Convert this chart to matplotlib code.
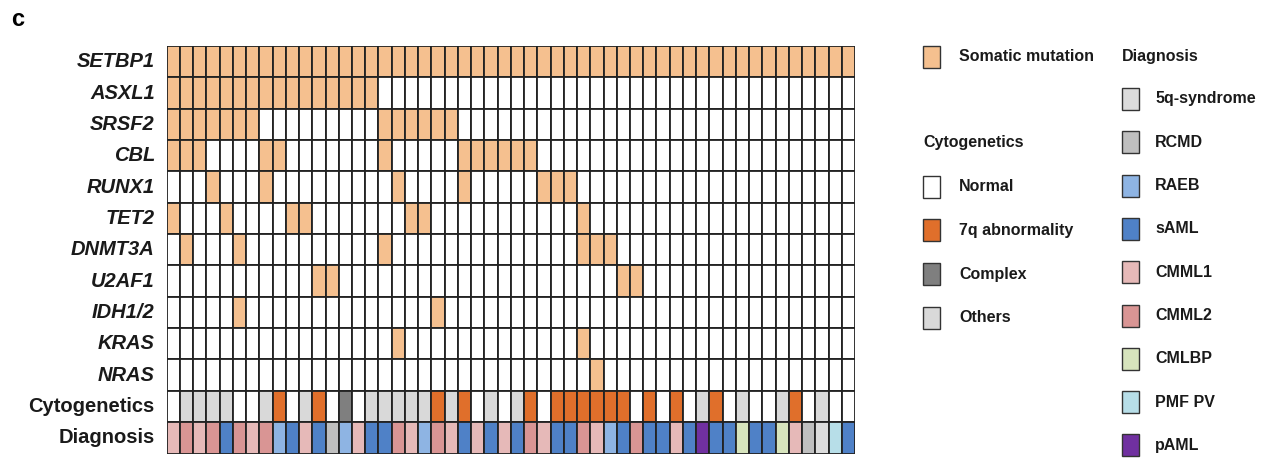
import numpy as np
import matplotlib
matplotlib.use("Agg")
import matplotlib.pyplot as plt
import matplotlib.patches as mpatches

plt.rcParams["font.family"] = ["Liberation Sans", "DejaVu Sans"]

# ---------------------------------------------------------------------------
# Données
# ---------------------------------------------------------------------------
n_patients = 52

genes = ["SETBP1", "ASXL1", "SRSF2", "CBL", "RUNX1", "TET2", "DNMT3A",
         "U2AF1", "IDH1/2", "KRAS", "NRAS"]

# colonnes (patients) mutées pour chaque gène
setbp1 = list(range(52))
asxl1 = list(range(16))
srsf2 = [0, 1, 2, 3, 4, 5, 6, 16, 17, 18, 19, 20, 21]
cbl = [0, 1, 2, 7, 8, 16, 22, 23, 24, 25, 26, 27]
runx1 = [3, 7, 17, 22, 28, 29, 30]
tet2 = [0, 4, 9, 10, 18, 19, 31]
dnmt3a = [1, 5, 16, 31, 32, 33]
u2af1 = [11, 12, 34, 35]
idh12 = [5, 20]
kras = [17, 31]
nras = [32]
mutations = [setbp1, asxl1, srsf2, cbl, runx1, tet2, dnmt3a,
             u2af1, idh12, kras, nras]

cyto_labels = ["Normal", "7q abnormality", "Complex", "Others"]
cyto_colors = ["#FFFFFF", "#E06F2B", "#7F7F7F", "#D9D9D9"]
# N=Normal, Q=7q, C=Complex, O=Others
cytogenetics = ("N O O O O N N O Q N O Q N C N O O O O O Q O Q N O N "
                "O Q N Q Q Q Q Q Q N Q N Q N O Q N O N N O Q N O N N").split()
cyto_code = {"N": 0, "Q": 1, "C": 2, "O": 3}

diag_labels = ["5q-syndrome", "RCMD", "RAEB", "sAML", "CMML1", "CMML2",
               "CMLBP", "PMF PV", "pAML"]
diag_colors = ["#DCDCDC", "#BFBFBF", "#8EB4E3", "#4F81C7", "#E6B9B8",
               "#D99594", "#D7E4BD", "#B7DEE8", "#7030A0"]
diagnosis = ["CMML1", "CMML2", "CMML1", "CMML2", "sAML", "CMML2", "CMML1",
             "CMML2", "RAEB", "sAML", "CMML1", "sAML", "RCMD", "RAEB",
             "CMML1", "sAML", "sAML", "CMML2", "CMML1", "RAEB", "CMML2",
             "CMML1", "sAML", "CMML1", "sAML", "CMML1", "sAML", "CMML2",
             "CMML1", "sAML", "sAML", "CMML2", "CMML1", "RAEB", "sAML",
             "CMML2", "sAML", "sAML", "CMML1", "sAML", "pAML", "sAML",
             "sAML", "CMLBP", "sAML", "sAML", "CMLBP", "CMML1", "RCMD",
             "5q-syndrome", "PMF PV", "sAML"]

mut_color = "#F5C08F"
edge = "#222222"

# ---------------------------------------------------------------------------
# Figure
# ---------------------------------------------------------------------------
W, H = 1280, 462
fig = plt.figure(figsize=(W / 100, H / 100), dpi=100)

ax = fig.add_axes([166.7 / W, 1 - 453.5 / H, (855 - 166.7) / W, (453.5 - 46) / H])
n_rows = len(genes) + 2
ax.set_xlim(0, n_patients)
ax.set_ylim(n_rows, 0)
ax.axis("off")


def cell(ax, x, y, color):
    ax.add_patch(mpatches.Rectangle((x, y), 1, 1, facecolor=color,
                                    edgecolor=edge, linewidth=1.3))


for r, cols in enumerate(mutations):
    for c in range(n_patients):
        cell(ax, c, r, mut_color if c in cols else "#FFFFFF")

r_cyto = len(genes)
for c, k in enumerate(cytogenetics):
    cell(ax, c, r_cyto, cyto_colors[cyto_code[k]])

r_diag = len(genes) + 1
for c, d in enumerate(diagnosis):
    cell(ax, c, r_diag, diag_colors[diag_labels.index(d)])

# étiquettes de lignes
for r, g in enumerate(genes):
    ax.text(-0.9, r + 0.5, g, ha="right", va="center", fontsize=14.5,
            fontstyle="italic", fontweight="bold", color="#1a1a1a")
ax.text(-0.9, r_cyto + 0.5, "Cytogenetics", ha="right", va="center",
        fontsize=14.5, fontweight="bold", color="#1a1a1a")
ax.text(-0.9, r_diag + 0.5, "Diagnosis", ha="right", va="center",
        fontsize=14.5, fontweight="bold", color="#1a1a1a")

# ---------------------------------------------------------------------------
# Légende (axes en coordonnées pixels)
# ---------------------------------------------------------------------------
lg = fig.add_axes([0, 0, 1, 1])
lg.set_xlim(0, W)
lg.set_ylim(H, 0)
lg.axis("off")

fig.text(11 / W, 1 - 20 / H, "c", fontsize=17, fontweight="bold",
         va="center", ha="left")


def legend_item(x, y, color, label, dx=36):
    lg.add_patch(mpatches.Rectangle((x, y - 11), 17, 22, facecolor=color,
                                    edgecolor="#333333", linewidth=1.0))
    lg.text(x + dx, y, label, fontsize=11.5, fontweight="bold",
            va="center", ha="left", color="#1a1a1a")


legend_item(923, 56.5, mut_color, "Somatic mutation")

lg.text(923, 143, "Cytogenetics", fontsize=11.5, fontweight="bold",
        va="center", ha="left", color="#1a1a1a")
for i, (lab, col) in enumerate(zip(cyto_labels, cyto_colors)):
    legend_item(923, 186.5 + 43.8 * i, col, lab)

lg.text(1122, 56.5, "Diagnosis", fontsize=11.5, fontweight="bold",
        va="center", ha="left", color="#1a1a1a")
for i, (lab, col) in enumerate(zip(diag_labels, diag_colors)):
    legend_item(1122, 99 + 43.3 * i, col, lab, dx=33)

fig.savefig("out.png", dpi=100)
